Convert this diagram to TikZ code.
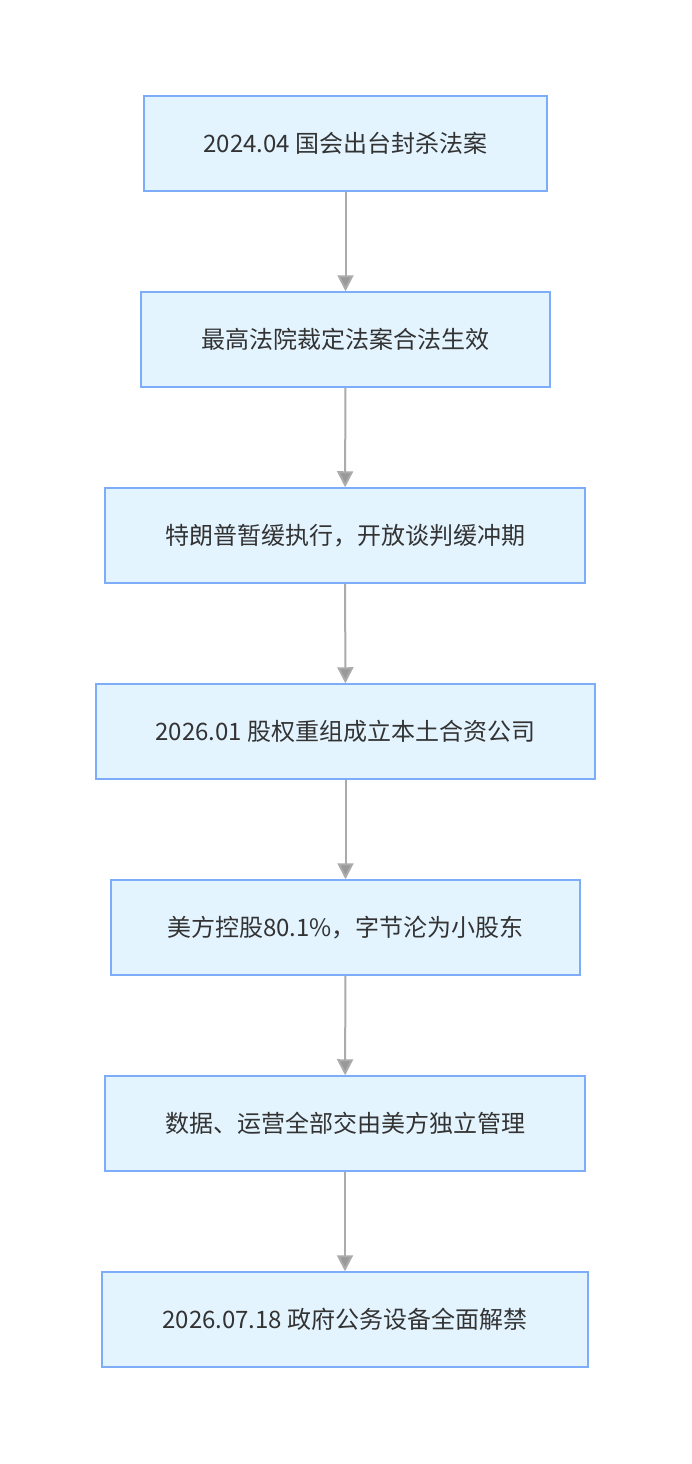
\documentclass[tikz,border=0pt]{standalone}
\usepackage{fontspec}
\newfontfamily\cjk{Noto Sans CJK SC}
\usetikzlibrary{arrows.meta}
\definecolor{boxfill}{HTML}{E3F4FF}
\definecolor{boxline}{HTML}{7DADF8}
\definecolor{linkgray}{HTML}{ABABAB}
\definecolor{tipgray}{HTML}{999999}
\definecolor{textgray}{HTML}{333333}
\tikzset{
  stepbox/.style={draw=boxline, fill=boxfill, line width=1.5pt, minimum height=95pt,
    inner sep=0pt, text=textgray, font=\cjk\fontsize{24}{28}\selectfont},
  link/.style={draw=linkgray, line width=2pt, -{Triangle[length=16pt,width=16pt,fill=tipgray]}}
}
\begin{document}
\begin{tikzpicture}[x=1pt,y=-1pt]
\useasboundingbox (0,0) rectangle (691,1464);
\node[stepbox, minimum width=403pt] (ban)     at (345.5,143.5)  {2024.04 国会出台封杀法案};
\node[stepbox, minimum width=409pt] (court)   at (345.5,339.5)  {最高法院裁定法案合法生效};
\node[stepbox, minimum width=480pt] (delay)   at (345,535.5)    {特朗普暂缓执行，开放谈判缓冲期};
\node[stepbox, minimum width=499pt] (jv)      at (345.5,731.5)  {2026.01 股权重组成立本土合资公司};
\node[stepbox, minimum width=469pt] (stake)   at (345.5,927.5)  {美方控股80.1\%，字节沦为小股东};
\node[stepbox, minimum width=480pt] (data)    at (345,1123.5)   {数据、运营全部交由美方独立管理};
\node[stepbox, minimum width=486pt] (unban)   at (345,1319.5)   {2026.07.18 政府公务设备全面解禁};
% links between steps
\draw[link] (ban) -- (court);
\draw[link] (court) -- (delay);
\draw[link] (delay) -- (jv);
\draw[link] (jv) -- (stake);
\draw[link] (stake) -- (data);
\draw[link] (data) -- (unban);
\end{tikzpicture}
\end{document}
